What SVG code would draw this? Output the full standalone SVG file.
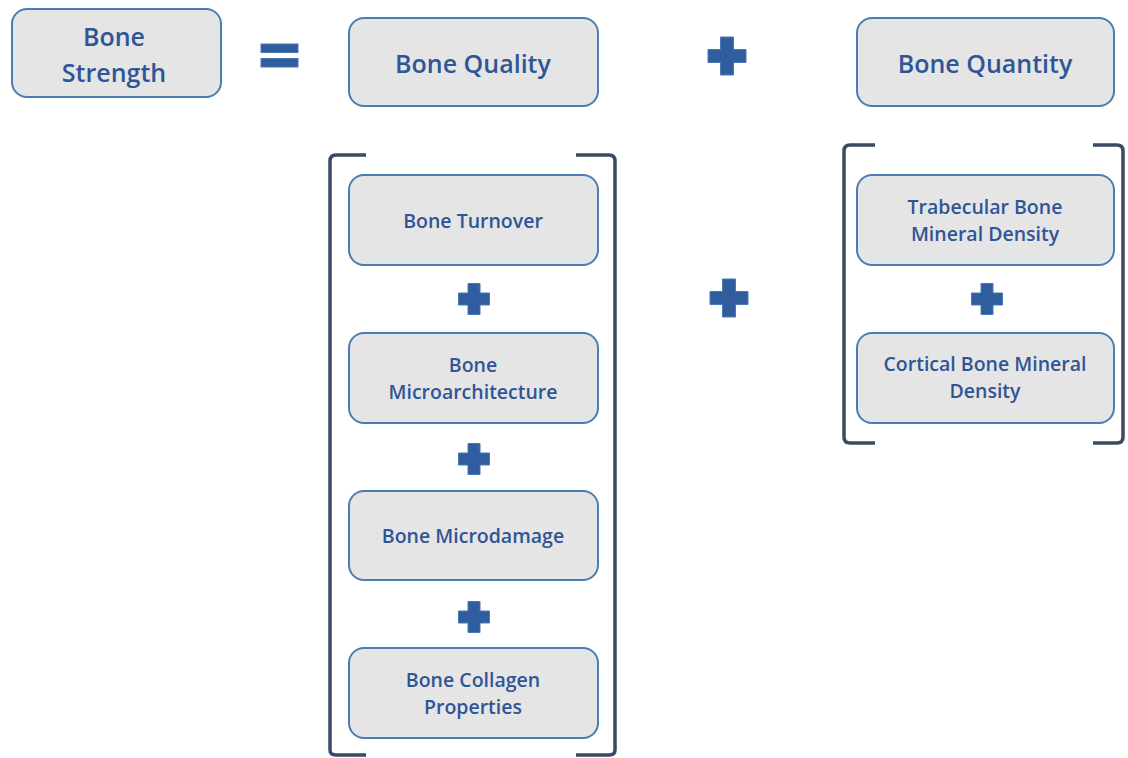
<svg xmlns="http://www.w3.org/2000/svg" width="1128" height="758" viewBox="0 0 1128 758">
<style>
.box{fill:#e5e5e5;stroke:#4a7db0;stroke-width:2}
.t{font-family:"Open Sans","Liberation Sans",sans-serif;fill:#2f5597;text-anchor:middle;font-weight:600}
.big{font-size:25px}
.sm{font-size:19.5px}
.br{fill:none;stroke:#3a4a62;stroke-width:3.5;stroke-linejoin:round}
.op{fill:#2f5d9e;stroke:#4a78b4;stroke-width:1}
</style>
<defs>
<path id="plusL" d="M-6.5,-19 H6.5 V-6.5 H19 V6.5 H6.5 V19 H-6.5 V6.5 H-19 V-6.5 H-6.5 Z"/>
<path id="plusS" d="M-6,-15.5 H6 V-6 H15.5 V6 H6 V15.5 H-6 V6 H-15.5 V-6 H-6 Z"/>
</defs>
<rect width="1128" height="758" fill="#ffffff"/>
<g id="bone-strength"><rect class="box" x="12" y="9" width="209" height="88" rx="15"/><text class="t big" x="114" y="46">Bone</text><text class="t big" x="114" y="82">Strength</text></g>
<g id="equals"><rect class="op" x="261" y="44" width="37" height="8.5"/><rect class="op" x="261" y="58.5" width="37" height="8.5"/></g>
<g id="bone-quality"><rect class="box" x="349" y="18" width="249" height="88" rx="15"/><text class="t big" x="473" y="73">Bone Quality</text></g>
<g id="plus-top"><use href="#plusL" class="op" x="727" y="56"/></g>
<g id="bone-quantity"><rect class="box" x="857" y="18" width="257" height="88" rx="15"/><text class="t big" x="985" y="73">Bone Quantity</text></g>
<g id="bracket-quality">
<path class="br" d="M366,155 H336 Q330,155 330,161 V750 Q330,755 336,755 H366"/>
<path class="br" d="M576,155 H609 Q615,155 615,161 V750 Q615,755 609,755 H576"/>
</g>
<g id="bone-turnover"><rect class="box" x="349" y="175" width="249" height="90" rx="15"/><text class="t sm" x="473" y="228">Bone Turnover</text></g>
<g id="plus-q1"><use href="#plusS" class="op" x="474" y="299"/></g>
<g id="bone-microarchitecture"><rect class="box" x="349" y="333" width="249" height="90" rx="15"/><text class="t sm" x="473" y="372">Bone</text><text class="t sm" x="473" y="399">Microarchitecture</text></g>
<g id="plus-q2"><use href="#plusS" class="op" x="474" y="459"/></g>
<g id="bone-microdamage"><rect class="box" x="349" y="491" width="249" height="89" rx="15"/><text class="t sm" x="473" y="543">Bone Microdamage</text></g>
<g id="plus-q3"><use href="#plusS" class="op" x="474" y="617"/></g>
<g id="bone-collagen"><rect class="box" x="349" y="648" width="249" height="90" rx="15"/><text class="t sm" x="473" y="687">Bone Collagen</text><text class="t sm" x="473" y="714">Properties</text></g>
<g id="plus-mid"><use href="#plusL" class="op" x="729" y="298"/></g>
<g id="bracket-quantity">
<path class="br" d="M875,145 H850 Q844,145 844,151 V437 Q844,443 850,443 H875"/>
<path class="br" d="M1093,145 H1117 Q1123,145 1123,151 V437 Q1123,443 1117,443 H1093"/>
</g>
<g id="trabecular"><rect class="box" x="857" y="175" width="257" height="90" rx="15"/><text class="t sm" x="985" y="214">Trabecular Bone</text><text class="t sm" x="985" y="241">Mineral Density</text></g>
<g id="plus-r"><use href="#plusS" class="op" x="987" y="299"/></g>
<g id="cortical"><rect class="box" x="857" y="333" width="257" height="90" rx="15"/><text class="t sm" x="985" y="371">Cortical Bone Mineral</text><text class="t sm" x="985" y="398">Density</text></g>
</svg>
